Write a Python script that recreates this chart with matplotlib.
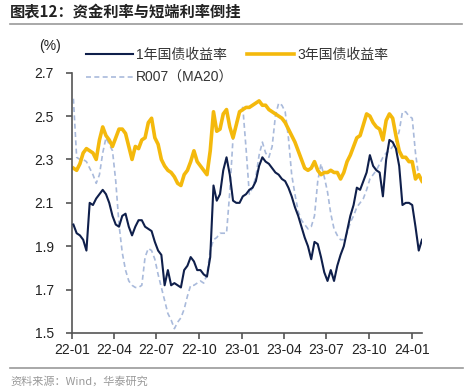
import matplotlib
matplotlib.use("Agg")
import matplotlib.pyplot as plt
import matplotlib.dates as mdates
import pandas as pd
import numpy as np

plt.rcParams['font.family'] = ['Liberation Sans', 'Noto Sans CJK SC', 'DejaVu Sans']

start_date = '2022-01-04'

y1 = [2.00, 1.96, 1.95, 1.93, 1.88, 2.10, 2.09, 2.12, 2.14, 2.16,
      2.14, 2.10, 2.04, 2.00, 1.99, 2.04, 2.05, 1.99, 1.95, 1.99,
      2.02, 2.02, 1.99, 1.98, 1.97, 1.92, 1.88, 1.86, 1.72, 1.79,
      1.72, 1.73, 1.72, 1.71, 1.79, 1.81, 1.85, 1.83, 1.79, 1.79,
      1.77, 1.76, 1.85, 2.18, 2.11, 2.14, 2.25, 2.31, 2.23, 2.11,
      2.10, 2.10, 2.13, 2.14, 2.16, 2.17, 2.20, 2.27, 2.31, 2.29,
      2.28, 2.26, 2.24, 2.23, 2.21, 2.20, 2.17, 2.13, 2.08, 2.04,
      1.99, 1.94, 1.90, 1.84, 1.92, 1.91, 1.85, 1.78, 1.74, 1.79,
      1.74, 1.81, 1.86, 1.90, 1.97, 2.04, 2.09, 2.17, 2.16, 2.20,
      2.24, 2.32, 2.27, 2.25, 2.24, 2.13, 2.30, 2.39, 2.38, 2.35,
      2.27, 2.09, 2.10, 2.10, 2.09, 1.99, 1.88, 1.93]

y3 = [2.26, 2.25, 2.28, 2.33, 2.35, 2.34, 2.33, 2.30, 2.39, 2.45,
      2.41, 2.39, 2.36, 2.40, 2.44, 2.44, 2.42, 2.36, 2.30, 2.36,
      2.35, 2.39, 2.40, 2.47, 2.49, 2.40, 2.37, 2.30, 2.27, 2.25,
      2.24, 2.22, 2.19, 2.18, 2.23, 2.25, 2.29, 2.34, 2.29, 2.27,
      2.25, 2.23, 2.34, 2.52, 2.43, 2.44, 2.51, 2.53, 2.45, 2.40,
      2.46, 2.52, 2.53, 2.54, 2.54, 2.55, 2.56, 2.57, 2.55, 2.55,
      2.53, 2.52, 2.51, 2.50, 2.49, 2.47, 2.44, 2.41, 2.38, 2.34,
      2.30, 2.26, 2.25, 2.26, 2.29, 2.25, 2.23, 2.24, 2.24, 2.25,
      2.24, 2.24, 2.21, 2.24, 2.29, 2.32, 2.36, 2.40, 2.41, 2.46,
      2.51, 2.50, 2.47, 2.45, 2.44, 2.39, 2.48, 2.51, 2.49, 2.41,
      2.34, 2.31, 2.31, 2.29, 2.29, 2.21, 2.23, 2.20]

r007 = [2.58, 2.31, 2.30, 2.30, 2.29, 2.26, 2.23, 2.19, 2.23, 2.33,
        2.40, 2.37, 2.34, 2.20, 2.00, 1.87, 1.79, 1.74, 1.72, 1.71,
        1.71, 1.72, 1.85, 1.89, 1.88, 1.84, 1.77, 1.71, 1.65, 1.59,
        1.56, 1.52, 1.55, 1.57, 1.61, 1.67, 1.72, 1.72, 1.73, 1.74,
        1.73, 1.77, 1.88, 1.93, 1.94, 1.96, 1.96, 1.96, 2.15, 2.40,
        2.47, 2.52, 2.54, 2.35, 2.14, 2.17, 2.22, 2.32, 2.38, 2.33,
        2.31, 2.36, 2.50, 2.56, 2.55, 2.52, 2.40, 2.23, 2.14, 2.06,
        2.02, 2.00, 1.98, 1.99, 2.04, 2.20, 2.28, 2.22, 2.15, 2.05,
        1.98, 1.95, 1.93, 1.93, 1.96, 2.01, 2.04, 2.08, 2.10, 2.12,
        2.16, 2.21, 2.23, 2.25, 2.28, 2.31, 2.33, 2.34, 2.36, 2.38,
        2.43, 2.52, 2.52, 2.50, 2.49, 2.33, 2.22, 2.24]

dates = pd.date_range(start_date, periods=len(y1), freq='7D')

yticks = [1.5, 1.7, 1.9, 2.1, 2.3, 2.5, 2.7]
xtick_dates = pd.date_range('2022-01-01', '2024-01-01', freq='QS')

title = '图表12：资金利率与短端利率倒挂'
source = '资料来源：Wind，华泰研究'
labels = ['1年国债收益率', '3年国债收益率', 'R007（MA20）']

c_navy = '#0f1f4b'
c_gold = '#f4b90c'
c_dash = '#a9badb'
c_axis = '#555555'

fig = plt.figure(figsize=(4.74, 3.90), dpi=100)
ax = fig.add_axes([72/474, 1 - 333/390, 350/474, (333 - 72.7)/390])

l3, = ax.plot(dates, y3, color=c_gold, lw=2.6, label=labels[1], zorder=2)
lr, = ax.plot(dates, r007, color=c_dash, lw=1.2, ls=(0, (3, 2)), label=labels[2], zorder=1)
l1, = ax.plot(dates, y1, color=c_navy, lw=1.5, label=labels[0], zorder=3)

ax.set_ylim(1.5, 2.7)
ax.set_yticks(yticks)
ax.set_yticklabels([f'{v:.1f}' for v in yticks])
ax.set_xlim(pd.Timestamp('2022-01-01'), dates[-1])
ax.set_xticks(xtick_dates)
ax.xaxis.set_major_formatter(mdates.DateFormatter('%y-%m'))

for s in ['top', 'right']:
    ax.spines[s].set_visible(False)
for s in ['left', 'bottom']:
    ax.spines[s].set_color(c_axis)
    ax.spines[s].set_linewidth(1.2)
ax.tick_params(axis='both', direction='out', length=4, width=1.2, color=c_axis,
               labelsize=10, labelcolor='#222222')
ax.tick_params(axis='y', pad=9)
ax.tick_params(axis='x', pad=3)

leg = fig.legend(handles=[l1, lr, l3], labels=[labels[0], labels[2], labels[1]],
                 ncol=2, loc='upper left', bbox_to_anchor=(86/474, 1 - 48/390),
                 frameon=False, fontsize=10, handlelength=3.4, handletextpad=0.2,
                 columnspacing=1.0, labelspacing=0.65, borderpad=0, borderaxespad=0)
for t in leg.get_texts():
    t.set_color('#333333')

fig.text(50/474, 1 - 46/390, '(%)', ha='center', va='center', fontsize=10, color='#222222')

fig.text(10/474, 1 - 12/390, title, ha='left', va='center', fontsize=11,
         fontweight='bold', family=['Noto Sans CJK SC', 'DejaVu Sans'], color='#222222')
fig.add_artist(plt.Line2D([10/474, 462/474], [1 - 24/390, 1 - 24/390],
                          transform=fig.transFigure, color='#9a9a9a', lw=1.2))
fig.add_artist(plt.Line2D([10/474, 463/474], [1 - 368/390, 1 - 368/390],
                          transform=fig.transFigure, color='#9a9a9a', lw=1.2))
fig.text(10/474, 1 - 381/390, source, ha='left', va='center', fontsize=8,
         family=['Noto Sans CJK SC', 'DejaVu Sans'], color='#999999')

fig.savefig('out.png', dpi=100)
